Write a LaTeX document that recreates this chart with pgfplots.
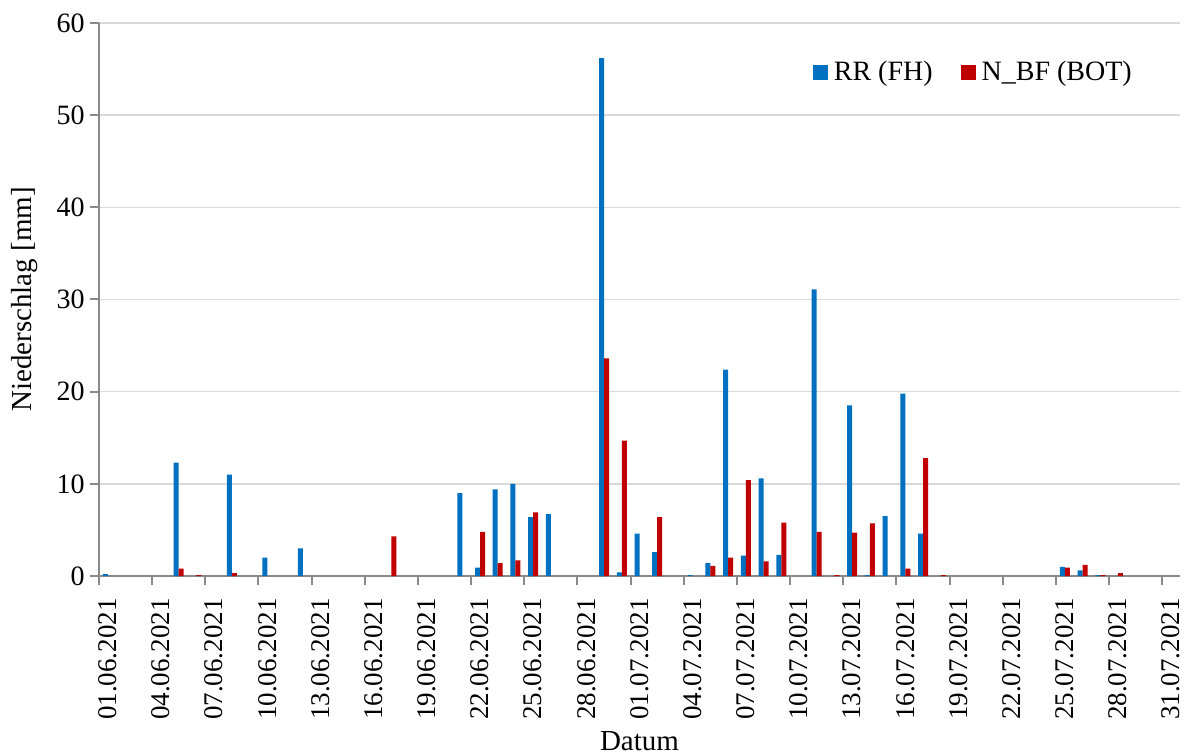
\documentclass[border=0pt]{standalone}
\usepackage{pgfplots}
\pgfplotsset{compat=1.18}
\usepackage{fontspec}
\setmainfont{Liberation Serif}
\definecolor{rrblue}{HTML}{0070C0}
\definecolor{bfred}{HTML}{C00000}
\definecolor{axgray}{HTML}{898989}
\definecolor{gridgray}{HTML}{D9D9D9}
\begin{document}
\begin{tikzpicture}
\begin{axis}[
  name=ax,
  scale only axis, width=540.5pt, height=276.5pt,
  xmin=-0.5, xmax=60.5, ymin=0, ymax=60,
  axis x line=bottom, axis y line=left,
  axis line style={-, axgray, line width=1pt},
  ytick={0,10,...,60}, minor ytick={0,10,...,60},
  ymajorgrids, grid style={gridgray, line width=0.8pt},
  xtick={0,3,...,60},
  xticklabels={01.06.2021,04.06.2021,07.06.2021,10.06.2021,13.06.2021,16.06.2021,19.06.2021,22.06.2021,25.06.2021,28.06.2021,01.07.2021,04.07.2021,07.07.2021,10.07.2021,13.07.2021,16.07.2021,19.07.2021,22.07.2021,25.07.2021,28.07.2021,31.07.2021},
  minor xtick={-0.5,2.5,...,59.5},
  x tick label style={rotate=90, anchor=east, inner xsep=11pt, font=\fontsize{13.5}{15}\selectfont},
  y tick label style={inner xsep=7pt, font=\fontsize{14}{16}\selectfont},
  /pgf/number format/assume math mode=true,
  xtick align=outside, ytick align=outside,
  major tick length=0pt, minor tick length=4.5pt,
  every minor tick/.style={draw=axgray, line width=1pt},
  ybar=0pt, bar width=2.5pt,
  xlabel={Datum}, ylabel={Niederschlag [mm]},
  xlabel style={at={(axis description cs:0.5,0)}, anchor=north, yshift=-74pt},
  ylabel style={at={(axis description cs:-0.0685,0.5)}, anchor=center},
  label style={font=\fontsize{14.5}{17}\selectfont},
  legend style={draw=none, at={(0.965,0.911)}, anchor=east, legend columns=2,
    font=\fontsize{14}{16}\selectfont,
    /tikz/every even column/.append style={column sep=12pt}},
  legend image code/.code={\path[#1] (0pt,-3.75pt) rectangle (7.5pt,3.75pt); \path (8.5pt,0pt);},
]
\addplot[fill=rrblue, draw=none] coordinates {
(0,0.2) (4,12.3) (7,11.0) (9,2.0) (11,3.0) (20,9.0) (21,0.9) (22,9.4) (23,10.0)
(24,6.4) (25,6.7) (28,56.2) (29,0.4) (30,4.6) (31,2.6) (33,0.1) (34,1.4) (35,22.4)
(36,2.2) (37,10.6) (38,2.3) (40,31.1) (42,18.5) (43,0.1) (44,6.5) (45,19.8) (46,4.6)
(54,1.0) (55,0.6) (56,0.1)
};
\addplot[fill=bfred, draw=none] coordinates {
(4,0.8) (5,0.1) (7,0.3) (16,4.3) (21,4.8) (22,1.4) (23,1.7) (24,6.9) (28,23.6)
(29,14.7) (31,6.4) (34,1.1) (35,2.0) (36,10.4) (37,1.6) (38,5.8) (40,4.8) (41,0.1)
(42,4.7) (43,5.7) (45,0.8) (46,12.8) (47,0.1) (54,0.9) (55,1.2) (56,0.1) (57,0.3)
};
\legend{RR (FH), N\_BF (BOT)}
\end{axis}
\pgfresetboundingbox
\path ([xshift=-49.5pt,yshift=-89pt]ax.south west) rectangle ([xshift=4pt,yshift=11.5pt]ax.north east);
\end{tikzpicture}
\end{document}
